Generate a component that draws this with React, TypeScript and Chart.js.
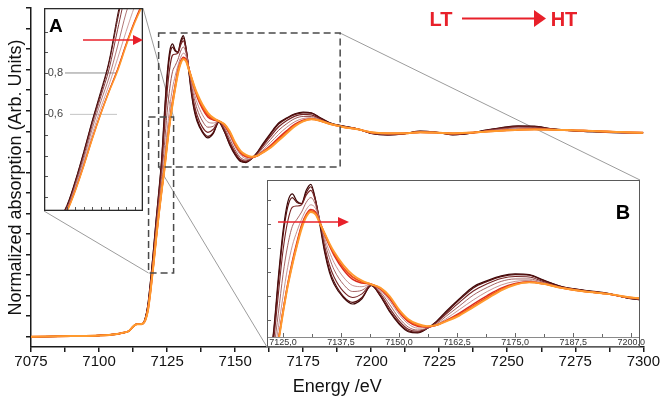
import React, { useEffect, useRef } from 'react';
import { Chart, registerables } from 'chart.js';

Chart.register(...registerables);

const FONT = '"Liberation Sans", Arial, Helvetica, sans-serif';

// ---------- data ----------
const ENERGY = [
  7075, 7090, 7100, 7106, 7109, 7111, 7112, 7113, 7114, 7115, 7116,
  7117, 7118, 7119, 7120, 7121, 7122, 7123, 7124, 7125, 7126, 7127, 7128,
  7129, 7130, 7131, 7132, 7133, 7134, 7135, 7136,
  7138, 7140, 7142, 7144, 7146, 7148, 7150, 7152, 7154, 7156, 7158, 7160,
  7163, 7166, 7169, 7172, 7175, 7178, 7181, 7185, 7190, 7195, 7200,
  7206, 7212, 7218, 7224, 7230, 7236, 7242, 7248, 7254, 7260, 7266, 7272, 7278, 7284, 7290, 7296, 7300,
];

const PRE_EDGE = [0.0, 0.003, 0.006, 0.012, 0.02, 0.028, 0.042, 0.055, 0.061, 0.061, 0.063];

const S1 = [...PRE_EDGE,
  0.09, 0.16, 0.28, 0.42, 0.57, 0.71, 0.86, 1.08, 1.27, 1.39, 1.425, 1.395,
  1.385, 1.44, 1.465, 1.40, 1.29, 1.18, 1.10, 1.05,
  0.995, 0.968, 0.99, 1.045, 1.0, 0.935, 0.885, 0.853, 0.848, 0.866, 0.895, 0.935,
  0.99, 1.04, 1.065, 1.085, 1.093, 1.09, 1.068, 1.04, 1.025, 1.012, 0.99,
  0.982, 0.987, 1.0, 0.995, 0.983, 0.99, 1.005, 1.018, 1.026, 1.025, 1.013, 1.005, 1.0, 0.997, 0.993, 0.993, 0.993];
const S2 = [...PRE_EDGE,
  0.09, 0.155, 0.275, 0.415, 0.565, 0.70, 0.85, 1.06, 1.25, 1.37, 1.41, 1.39,
  1.385, 1.43, 1.455, 1.40, 1.30, 1.19, 1.11, 1.06,
  1.0, 0.975, 0.995, 1.045, 1.002, 0.94, 0.89, 0.857, 0.851, 0.866, 0.893, 0.93,
  0.985, 1.035, 1.062, 1.082, 1.09, 1.088, 1.066, 1.04, 1.024, 1.011, 0.99,
  0.983, 0.988, 0.999, 0.995, 0.984, 0.99, 1.004, 1.016, 1.024, 1.023, 1.012, 1.005, 1.0, 0.997, 0.994, 0.993, 0.993];
const S3 = [...PRE_EDGE,
  0.088, 0.15, 0.265, 0.40, 0.55, 0.685, 0.82, 1.01, 1.19, 1.31, 1.37, 1.375,
  1.38, 1.42, 1.44, 1.395, 1.305, 1.205, 1.13, 1.08,
  1.02, 0.995, 1.01, 1.047, 1.01, 0.95, 0.898, 0.863, 0.855, 0.866, 0.89, 0.924,
  0.975, 1.022, 1.052, 1.074, 1.082, 1.08, 1.062, 1.038, 1.023, 1.011, 0.991,
  0.984, 0.988, 0.998, 0.995, 0.985, 0.99, 1.003, 1.014, 1.021, 1.02, 1.011, 1.005, 1.001, 0.997, 0.994, 0.993, 0.993];
const S4 = [...PRE_EDGE,
  0.086, 0.145, 0.255, 0.385, 0.53, 0.66, 0.78, 0.93, 1.09, 1.21, 1.29, 1.32,
  1.35, 1.39, 1.41, 1.38, 1.31, 1.225, 1.16, 1.11,
  1.05, 1.02, 1.025, 1.048, 1.018, 0.965, 0.91, 0.872, 0.86, 0.867, 0.885, 0.915,
  0.96, 1.005, 1.037, 1.062, 1.072, 1.072, 1.058, 1.037, 1.022, 1.01, 0.992,
  0.986, 0.989, 0.997, 0.994, 0.987, 0.991, 1.002, 1.011, 1.016, 1.016, 1.01, 1.005, 1.002, 0.998, 0.995, 0.993, 0.993];
const S5 = [...PRE_EDGE,
  0.084, 0.14, 0.245, 0.37, 0.505, 0.63, 0.745, 0.87, 1.0, 1.12, 1.21, 1.27,
  1.32, 1.36, 1.38, 1.365, 1.31, 1.24, 1.185, 1.14,
  1.08, 1.045, 1.04, 1.05, 1.025, 0.98, 0.925, 0.885, 0.868, 0.87, 0.882, 0.905,
  0.945, 0.985, 1.02, 1.047, 1.062, 1.066, 1.055, 1.036, 1.021, 1.01, 0.993,
  0.988, 0.99, 0.996, 0.994, 0.988, 0.992, 1.0, 1.007, 1.012, 1.013, 1.009, 1.005, 1.003, 0.999, 0.996, 0.993, 0.993];
const S6 = [...PRE_EDGE,
  0.082, 0.135, 0.235, 0.355, 0.485, 0.605, 0.715, 0.82, 0.94, 1.05, 1.145, 1.225,
  1.295, 1.34, 1.36, 1.35, 1.305, 1.255, 1.21, 1.17,
  1.11, 1.07, 1.055, 1.05, 1.03, 0.99, 0.935, 0.895, 0.876, 0.873, 0.88, 0.898,
  0.93, 0.968, 1.003, 1.034, 1.053, 1.06, 1.053, 1.035, 1.02, 1.01, 0.994,
  0.989, 0.99, 0.995, 0.993, 0.989, 0.992, 0.999, 1.004, 1.008, 1.01, 1.008, 1.005, 1.003, 1.0, 0.996, 0.994, 0.993];
const S7 = [...PRE_EDGE,
  0.081, 0.132, 0.232, 0.352, 0.482, 0.602, 0.712, 0.815, 0.935, 1.045, 1.135, 1.215,
  1.29, 1.335, 1.355, 1.345, 1.303, 1.258, 1.215, 1.178,
  1.12, 1.08, 1.06, 1.05, 1.033, 0.995, 0.94, 0.9, 0.88, 0.874, 0.88, 0.896,
  0.925, 0.96, 0.996, 1.029, 1.05, 1.059, 1.052, 1.035, 1.02, 1.01, 0.995,
  0.99, 0.99, 0.995, 0.993, 0.99, 0.993, 0.998, 1.003, 1.007, 1.009, 1.008, 1.005, 1.003, 1.0, 0.997, 0.994, 0.993];
const S8 = [...PRE_EDGE,
  0.08, 0.13, 0.23, 0.35, 0.48, 0.60, 0.71, 0.81, 0.93, 1.04, 1.13, 1.21,
  1.28, 1.33, 1.35, 1.34, 1.30, 1.26, 1.22, 1.185,
  1.13, 1.09, 1.065, 1.05, 1.035, 1.0, 0.945, 0.905, 0.885, 0.876, 0.88, 0.895,
  0.92, 0.955, 0.99, 1.025, 1.048, 1.058, 1.052, 1.035, 1.02, 1.01, 0.995,
  0.99, 0.99, 0.995, 0.993, 0.99, 0.993, 0.998, 1.003, 1.007, 1.009, 1.008, 1.006, 1.004, 1.0, 0.997, 0.994, 0.993];

const SERIES = [S1, S2, S3, S4, S5, S6, S7, S8];
const SERIES_NAMES = ['T1 (LT)', 'T2', 'T3', 'T4', 'T5', 'T6', 'T7', 'T8 (HT)'];
const SERIES_COLORS = ['#3a0606', '#561010', '#762424', '#9c5454', '#c08888', '#d92a1e', '#f2541a', '#ff9a2e'];
const MAIN_WIDTHS = [1.3, 1.3, 1.2, 1, 1, 1.6, 1.8, 2];
const INSET_B_WIDTHS = [1.2, 1.2, 1.1, 0.9, 0.9, 1.5, 1.7, 1.9];
const INSET_A_WIDTHS = [1, 1, 0.9, 0.8, 0.8, 1.1, 1.2, 1.4];

// main axes
const X_MIN = 7075;
const X_MAX = 7300;
const Y_MIN = -0.05;
const Y_MAX = 1.6;
const X_TICKS = [7075, 7087.5, 7100, 7112.5, 7125, 7137.5, 7150, 7162.5, 7175, 7187.5, 7200, 7212.5, 7225, 7237.5, 7250, 7262.5, 7275, 7287.5, 7300];
const X_LABELS = ['7075', '7100', '7125', '7150', '7175', '7200', '7225', '7250', '7275', '7300'];
const Y_TICKS = [0, 0.1, 0.2, 0.3, 0.4, 0.5, 0.6, 0.7, 0.8, 0.9, 1.0, 1.1, 1.2, 1.3, 1.4, 1.5, 1.6];

// zoom boxes (data units)
const BOX_A = { x0: 7118.2, x1: 7127.4, y0: 0.31, y1: 1.069 };
const BOX_B = { x0: 7121.9, x1: 7188.6, y0: 0.826, y1: 1.478 };

// inset A
const INSET_A_X = [7115.3, 7127.0];
const INSET_A_Y = [0.133, 1.114];
const INSET_A_XTICKS = [7118, 7119, 7120, 7121, 7122, 7123, 7124, 7125, 7126];
const INSET_A_YTICKS = [0.2, 0.3, 0.4, 0.5, 0.6, 0.7, 0.8, 0.9, 1.0];
const INSET_A_LABELS = ['0,6', '0,8'];
const INSET_A_LABEL_VALUES = [0.6, 0.8];

// inset B
const INSET_B_X = [7121.55, 7201.9];
const INSET_B_Y = [0.831, 1.483];
const INSET_B_XTICKS = [7125, 7131.25, 7137.5, 7143.75, 7150, 7156.25, 7162.5, 7168.75, 7175, 7181.25, 7187.5, 7193.75, 7200];
const INSET_B_LABEL_VALUES = [7125, 7137.5, 7150, 7162.5, 7175, 7187.5, 7200];
const INSET_B_LABELS = ['7125,0', '7137,5', '7150,0', '7162,5', '7175,0', '7187,5', '7200,0'];
const INSET_B_YTICKS = [0.9, 1.0, 1.1, 1.2, 1.3, 1.4];

// ---------- layout ----------
const W = 661;
const H = 396;
const INSET_A = { left: 44, top: 8, width: 99, height: 203 };
const INSET_B = { left: 267, top: 180, width: 373, height: 167 };
const INSET_B_EXTRA = 14;
const INSET_B_AXIS_H = 10;
const RED = '#e8202a';

function pts(vals: number[]) {
  return ENERGY.map((e, i) => ({ x: e, y: vals[i] }));
}

function makeDatasets(widths: number[]) {
  return SERIES.map((vals, i) => ({
    label: SERIES_NAMES[i],
    data: pts(vals),
    borderColor: SERIES_COLORS[i],
    backgroundColor: SERIES_COLORS[i],
    borderWidth: widths[i],
    pointRadius: 0,
    fill: false,
    cubicInterpolationMode: 'monotone' as const,
    order: SERIES.length - i,
  }));
}

function seg(ctx: CanvasRenderingContext2D, x0: number, y0: number, x1: number, y1: number) {
  ctx.beginPath();
  ctx.moveTo(x0, y0);
  ctx.lineTo(x1, y1);
  ctx.stroke();
}

function arrow(ctx: CanvasRenderingContext2D, x0: number, x1: number, y: number, head: number, half: number, lw: number) {
  ctx.save();
  ctx.strokeStyle = RED;
  ctx.fillStyle = RED;
  ctx.lineWidth = lw;
  seg(ctx, x0, y, x1 - head + 1, y);
  ctx.beginPath();
  ctx.moveTo(x1, y);
  ctx.lineTo(x1 - head, y - half);
  ctx.lineTo(x1 - head, y + half);
  ctx.closePath();
  ctx.fill();
  ctx.restore();
}

function boxPx(b: { x0: number; x1: number; y0: number; y1: number }, x: any, y: any) {
  return {
    left: x.getPixelForValue(b.x0),
    right: x.getPixelForValue(b.x1),
    top: y.getPixelForValue(b.y1),
    bottom: y.getPixelForValue(b.y0),
  };
}

const mainOverlay = {
  id: 'mainOverlay',
  beforeDatasetsDraw(chart: any) {
    const { ctx } = chart;
    const a = boxPx(BOX_A, chart.scales.x, chart.scales.y);
    const b = boxPx(BOX_B, chart.scales.x, chart.scales.y);
    ctx.save();
    ctx.strokeStyle = '#9c9c9c';
    ctx.lineWidth = 1;
    seg(ctx, INSET_A.left + INSET_A.width, INSET_A.top, a.right, a.top);
    seg(ctx, INSET_A.left, INSET_A.top + INSET_A.height, a.left, a.bottom);
    seg(ctx, b.right, b.top, INSET_B.left + INSET_B.width, INSET_B.top);
    seg(ctx, b.left, b.bottom, INSET_B.left, INSET_B.top + INSET_B.height);
    ctx.restore();
  },
  afterDatasetsDraw(chart: any) {
    const { ctx } = chart;
    ctx.save();
    ctx.strokeStyle = '#4a4a4a';
    ctx.lineWidth = 1.5;
    ctx.setLineDash([7, 4]);
    [BOX_A, BOX_B].forEach((bx) => {
      const p = boxPx(bx, chart.scales.x, chart.scales.y);
      ctx.strokeRect(p.left, p.top, p.right - p.left, p.bottom - p.top);
    });
    ctx.restore();
  },
  afterDraw(chart: any) {
    const { ctx } = chart;
    ctx.save();
    ctx.fillStyle = RED;
    ctx.font = `bold 20px ${FONT}`;
    ctx.textAlign = 'center';
    ctx.textBaseline = 'alphabetic';
    ctx.fillText('LT', 441, 26);
    ctx.fillText('HT', 564, 26);
    ctx.restore();
    arrow(ctx, 462, 546, 18.5, 12, 8.5, 2);
  },
};

const insetAOverlay = {
  id: 'insetAOverlay',
  beforeDraw(chart: any) {
    const { ctx } = chart;
    ctx.save();
    ctx.fillStyle = '#ffffff';
    ctx.fillRect(0, 0, INSET_A.width, INSET_A.height);
    ctx.restore();
  },
  beforeDatasetsDraw(chart: any) {
    const { ctx } = chart;
    const y = chart.scales.y;
    const guideStart = [26, 21];
    const guideColor = ['#c4c4c4', '#8c8c8c'];
    ctx.save();
    INSET_A_LABEL_VALUES.forEach((v, i) => {
      const py = y.getPixelForValue(v);
      ctx.strokeStyle = guideColor[i];
      ctx.lineWidth = 1;
      seg(ctx, guideStart[i], py, 73, py);
      ctx.fillStyle = '#444';
      ctx.font = `11px ${FONT}`;
      ctx.textAlign = 'right';
      ctx.textBaseline = 'middle';
      ctx.fillText(INSET_A_LABELS[i], 19, py);
    });
    ctx.restore();
  },
  afterDraw(chart: any) {
    const { ctx } = chart;
    const x = chart.scales.x;
    const y = chart.scales.y;
    ctx.save();
    ctx.strokeStyle = '#555';
    ctx.lineWidth = 1;
    INSET_A_YTICKS.forEach((v) => {
      const py = Math.round(y.getPixelForValue(v)) + 0.5;
      seg(ctx, 0, py, 4, py);
    });
    INSET_A_XTICKS.forEach((v) => {
      const px = Math.round(x.getPixelForValue(v)) + 0.5;
      seg(ctx, px, INSET_A.height, px, INSET_A.height - 4);
    });
    ctx.strokeStyle = '#2a2a2a';
    ctx.lineWidth = 1.3;
    ctx.strokeRect(0.65, 0.65, INSET_A.width - 1.3, INSET_A.height - 1.3);
    ctx.fillStyle = '#000';
    ctx.font = `bold 19px ${FONT}`;
    ctx.textAlign = 'left';
    ctx.textBaseline = 'alphabetic';
    ctx.fillText('A', 5, 24);
    ctx.restore();
    arrow(ctx, 39, 99, 32, 10, 5, 1.5);
  },
};

const insetBOverlay = {
  id: 'insetBOverlay',
  beforeDraw(chart: any) {
    const { ctx } = chart;
    ctx.save();
    ctx.fillStyle = '#ffffff';
    ctx.fillRect(0, 0, INSET_B.width, INSET_B.height);
    ctx.restore();
  },
  afterDraw(chart: any) {
    const { ctx } = chart;
    const x = chart.scales.x;
    const y = chart.scales.y;
    const bottom = chart.chartArea.bottom;
    ctx.save();
    // axis line
    ctx.strokeStyle = '#8a8a8a';
    ctx.lineWidth = 1;
    seg(ctx, 0, Math.round(bottom) + 0.5, INSET_B.width, Math.round(bottom) + 0.5);
    // ticks
    ctx.strokeStyle = '#666';
    INSET_B_XTICKS.forEach((v) => {
      const px = Math.round(x.getPixelForValue(v)) + 0.5;
      const len = INSET_B_LABEL_VALUES.includes(v) ? 4 : 3;
      seg(ctx, px, bottom, px, bottom - len);
    });
    INSET_B_YTICKS.forEach((v) => {
      const py = Math.round(y.getPixelForValue(v)) + 0.5;
      seg(ctx, 0, py, 4, py);
    });
    // tick labels
    ctx.fillStyle = '#333';
    ctx.font = `9px ${FONT}`;
    ctx.textAlign = 'center';
    ctx.textBaseline = 'middle';
    INSET_B_LABEL_VALUES.forEach((v, i) => {
      ctx.fillText(INSET_B_LABELS[i], x.getPixelForValue(v), bottom + 5.5);
    });
    // frame
    ctx.strokeStyle = '#5a5a5a';
    ctx.lineWidth = 1;
    ctx.strokeRect(0.5, 0.5, INSET_B.width - 1, INSET_B.height - 1);
    ctx.fillStyle = '#000';
    ctx.font = `bold 20px ${FONT}`;
    ctx.textAlign = 'center';
    ctx.textBaseline = 'alphabetic';
    ctx.fillText('B', 356, 39);
    ctx.restore();
    arrow(ctx, 11, 82, 42, 11, 5, 1.5);
  },
};

export default function App() {
  const mainRef = useRef<HTMLCanvasElement | null>(null);
  const aRef = useRef<HTMLCanvasElement | null>(null);
  const bRef = useRef<HTMLCanvasElement | null>(null);

  useEffect(() => {
    const charts: Chart[] = [];
    if (mainRef.current) {
      charts.push(new Chart(mainRef.current, {
        type: 'line',
        data: { datasets: makeDatasets(MAIN_WIDTHS) as any },
        options: {
          responsive: false,
          animation: false,
          devicePixelRatio: 1,
          events: [],
          layout: { padding: { top: 8, right: 16, left: 0, bottom: 0 } },
          plugins: { legend: { display: false }, tooltip: { enabled: false } },
          scales: {
            x: {
              type: 'linear',
              min: X_MIN,
              max: X_MAX,
              afterBuildTicks: (s: any) => { s.ticks = X_TICKS.map((v) => ({ value: v })); },
              afterFit: (s: any) => { s.height = 49; },
              border: { display: true, color: '#1a1a1a', width: 1.5 },
              grid: { display: true, drawOnChartArea: false, drawTicks: true, tickLength: 5, color: '#1a1a1a', lineWidth: 1.5 },
              ticks: {
                autoSkip: false,
                maxRotation: 0,
                padding: 1,
                color: '#111',
                font: { family: FONT, size: 15 },
                callback: (v: any) => (X_LABELS.includes(String(v)) ? String(v) : ''),
              },
              title: { display: true, text: 'Energy /eV', color: '#111', font: { family: FONT, size: 18, lineHeight: 1 }, padding: { top: 0, bottom: 0 } },
            },
            y: {
              type: 'linear',
              min: Y_MIN,
              max: Y_MAX,
              afterBuildTicks: (s: any) => { s.ticks = Y_TICKS.map((v) => ({ value: v })); },
              afterFit: (s: any) => { s.width = 31; },
              border: { display: true, color: '#1a1a1a', width: 1.5 },
              grid: { display: true, drawOnChartArea: false, drawTicks: true, tickLength: 5, color: '#1a1a1a', lineWidth: 1.5 },
              ticks: { display: false },
              title: { display: true, text: 'Normalized absorption (Arb. Units)', color: '#111', font: { family: FONT, size: 18, lineHeight: 1 }, padding: { top: 7, bottom: 0 } },
            },
          },
        } as any,
        plugins: [mainOverlay],
      }));
    }
    if (aRef.current) {
      charts.push(new Chart(aRef.current, {
        type: 'line',
        data: { datasets: makeDatasets(INSET_A_WIDTHS) as any },
        options: {
          responsive: false,
          animation: false,
          devicePixelRatio: 1,
          events: [],
          layout: { padding: 0 },
          plugins: { legend: { display: false }, tooltip: { enabled: false } },
          scales: {
            x: { type: 'linear', min: INSET_A_X[0], max: INSET_A_X[1], display: false },
            y: { type: 'linear', min: INSET_A_Y[0], max: INSET_A_Y[1], display: false },
          },
        } as any,
        plugins: [insetAOverlay],
      }));
    }
    if (bRef.current) {
      charts.push(new Chart(bRef.current, {
        type: 'line',
        data: { datasets: makeDatasets(INSET_B_WIDTHS) as any },
        options: {
          responsive: false,
          animation: false,
          devicePixelRatio: 1,
          events: [],
          layout: { padding: { left: 0, top: 0, bottom: INSET_B_AXIS_H, right: INSET_B_EXTRA } },
          plugins: { legend: { display: false }, tooltip: { enabled: false } },
          scales: {
            x: { type: 'linear', min: INSET_B_X[0], max: INSET_B_X[1], display: false },
            y: { type: 'linear', min: INSET_B_Y[0], max: INSET_B_Y[1], display: false },
          },
        } as any,
        plugins: [insetBOverlay],
      }));
    }
    return () => { charts.forEach((c) => c.destroy()); };
  }, []);

  return (
    <div style={{ position: 'fixed', left: 0, top: 0, width: W, height: H, background: '#fff', overflow: 'hidden' }}>
      <canvas ref={mainRef} width={W} height={H} style={{ position: 'absolute', left: 0, top: 0, width: W, height: H }} />
      <canvas ref={aRef} width={INSET_A.width} height={INSET_A.height}
        style={{ position: 'absolute', left: INSET_A.left, top: INSET_A.top, width: INSET_A.width, height: INSET_A.height }} />
      <canvas ref={bRef} width={INSET_B.width + INSET_B_EXTRA} height={INSET_B.height}
        style={{ position: 'absolute', left: INSET_B.left, top: INSET_B.top, width: INSET_B.width + INSET_B_EXTRA, height: INSET_B.height }} />
    </div>
  );
}
